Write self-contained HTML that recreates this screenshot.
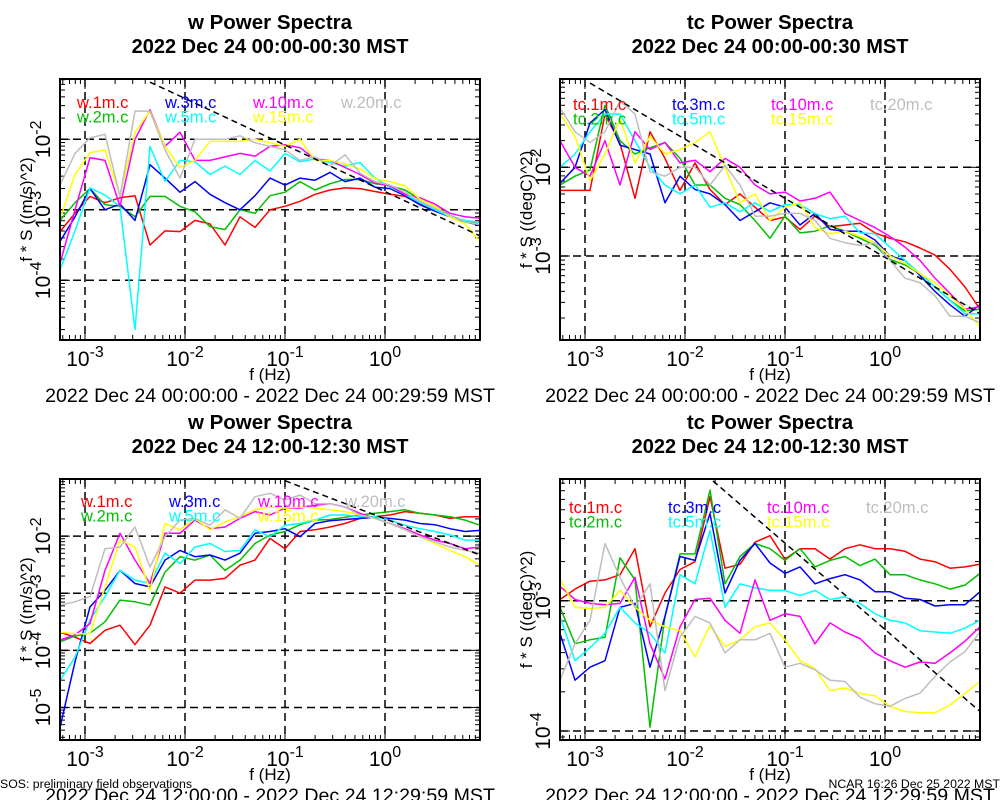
<!DOCTYPE html>
<html><head><meta charset="utf-8"><style>
body{margin:0;background:#fff;}
svg{display:block;font-family:"Liberation Sans",sans-serif;}
</style></head><body>
<svg id="chart" width="1000" height="800" viewBox="0 0 1000 800"></svg>
<script>
// frequency grid (log10 Hz)
const freqLog = [-3.25,-3.1,-2.95,-2.8,-2.65,-2.5,-2.35,-2.2,-2.05,-1.9,-1.75,-1.6,-1.45,-1.3,-1.15,-1.0,-0.85,-0.7,-0.55,-0.4,-0.25,-0.1,0.05,0.2,0.35,0.5,0.65,0.8,0.95];
const xTickExp = [-3,-2,-1,0];
const heights = ["1m","2m","3m","5m","10m","15m","20m"];
const legendW = ["w.1m.c","w.2m.c","w.3m.c","w.5m.c","w.10m.c","w.15m.c","w.20m.c"];
const legendT = ["tc.1m.c","tc.2m.c","tc.3m.c","tc.5m.c","tc.10m.c","tc.15m.c","tc.20m.c"];

// Top-left: w, 00:00 (log10 of f*S)
const w00_1m = [-3.31,-3.05,-2.81,-2.9,-2.83,-2.8,-3.5,-3.3,-3.31,-3.15,-3.2,-3.5,-3.1,-3.25,-3.0,-2.95,-2.88,-2.78,-2.72,-2.69,-2.7,-2.74,-2.78,-2.81,-2.92,-3.0,-3.1,-3.16,-3.21];
const w00_2m = [-3.15,-2.9,-2.7,-2.93,-2.95,-3.1,-2.81,-2.81,-2.95,-3.03,-3.24,-3.28,-3.0,-3.05,-2.8,-2.75,-2.6,-2.72,-2.63,-2.57,-2.57,-2.63,-2.66,-2.72,-2.85,-2.95,-3.08,-3.16,-3.21];
const w00_3m = [-3.45,-3.1,-2.7,-3.0,-2.92,-3.15,-2.36,-2.55,-2.75,-2.6,-2.78,-2.9,-3.0,-2.8,-2.55,-2.65,-2.55,-2.58,-2.47,-2.6,-2.55,-2.68,-2.7,-2.8,-2.93,-3.02,-3.1,-3.17,-3.22];
const w00_5m = [-3.85,-3.3,-2.69,-2.79,-2.95,-4.7,-2.1,-2.6,-2.3,-2.32,-2.5,-2.38,-2.5,-2.3,-2.45,-2.2,-2.32,-2.28,-2.33,-2.38,-2.33,-2.55,-2.68,-2.78,-2.9,-3.0,-3.1,-3.15,-3.18];
const w00_10m = [-3.76,-3.0,-2.26,-2.3,-2.95,-2.0,-1.58,-2.1,-1.9,-2.3,-2.3,-2.25,-2.2,-2.24,-2.1,-2.08,-2.12,-2.28,-2.3,-2.4,-2.5,-2.62,-2.66,-2.78,-2.83,-2.92,-3.05,-3.1,-3.12];
const w00_15m = [-3.13,-2.5,-2.19,-2.15,-2.8,-1.9,-1.6,-2.1,-2.4,-2.3,-2.03,-2.03,-2.03,-2.0,-2.05,-2.1,-2.0,-2.3,-2.3,-2.35,-2.42,-2.56,-2.6,-2.66,-2.85,-2.95,-3.1,-3.2,-3.45];
const w00_20m = [-2.65,-2.2,-1.98,-1.93,-2.81,-1.6,-1.6,-2.15,-2.55,-2.0,-2.0,-2.0,-1.95,-2.05,-2.1,-2.15,-2.3,-2.25,-2.38,-2.22,-2.48,-2.6,-2.65,-2.75,-2.88,-2.98,-3.08,-3.17,-3.21];

// Top-right: tc, 00:00
const t00_1m = [-2.26,-2.26,-2.26,-1.4,-1.73,-2.35,-1.6,-1.9,-2.26,-1.95,-2.25,-2.42,-2.3,-2.45,-2.6,-2.56,-2.7,-2.55,-2.67,-2.65,-2.63,-2.74,-2.8,-2.84,-2.91,-2.99,-3.15,-3.35,-3.6];
const t00_2m = [-2.2,-2.1,-2.03,-1.3,-1.7,-1.85,-1.78,-1.72,-1.9,-2.2,-2.2,-2.35,-2.42,-2.6,-2.8,-2.55,-2.74,-2.72,-2.66,-2.72,-2.8,-2.88,-3.04,-3.1,-3.2,-3.35,-3.5,-3.62,-3.6];
const t00_3m = [-2.18,-2.0,-1.5,-1.35,-1.75,-1.8,-1.85,-2.4,-2.1,-2.25,-2.3,-2.42,-2.6,-2.5,-2.4,-2.45,-2.65,-2.52,-2.7,-2.72,-2.72,-2.82,-3.0,-3.05,-3.22,-3.4,-3.55,-3.68,-3.55];
const t00_5m = [-2.0,-1.85,-1.6,-1.4,-1.4,-1.7,-2.0,-2.2,-2.3,-2.2,-2.45,-2.4,-2.5,-2.4,-2.5,-2.42,-2.42,-2.52,-2.58,-2.55,-2.74,-2.75,-2.9,-3.05,-3.2,-3.35,-3.5,-3.65,-3.65];
const t00_10m = [-1.7,-2.0,-2.1,-1.7,-2.2,-1.6,-1.8,-1.72,-1.95,-1.92,-2.05,-1.9,-2.0,-2.2,-2.3,-2.28,-2.38,-2.35,-2.28,-2.52,-2.6,-2.68,-2.78,-2.9,-3.05,-3.25,-3.42,-3.6,-3.57];
const t00_15m = [-1.4,-1.65,-2.15,-1.85,-1.45,-1.95,-1.65,-1.85,-1.8,-1.72,-1.6,-2.0,-2.4,-2.3,-2.6,-2.45,-2.4,-2.68,-2.75,-2.72,-2.78,-2.85,-3.0,-3.08,-3.2,-3.3,-3.45,-3.6,-3.8];
const t00_20m = [-1.33,-1.6,-1.72,-1.6,-1.25,-1.4,-2.05,-2.1,-2.0,-2.0,-2.2,-1.98,-2.2,-2.55,-2.55,-2.52,-2.52,-2.6,-2.8,-2.85,-2.88,-2.85,-3.05,-3.25,-3.3,-3.45,-3.68,-3.68,-3.75];

// Bottom-left: w, 12:00
const w12_1m = [-3.68,-3.77,-3.88,-3.65,-3.56,-3.9,-3.56,-2.89,-3.0,-2.77,-2.77,-2.74,-2.51,-2.42,-2.04,-2.22,-1.92,-1.89,-1.84,-1.78,-1.69,-1.66,-1.63,-1.57,-1.6,-1.63,-1.69,-1.66,-1.66];
const w12_2m = [-3.85,-3.75,-3.7,-3.5,-3.12,-3.15,-3.21,-2.63,-2.36,-2.42,-2.33,-2.6,-2.42,-2.13,-1.98,-1.92,-1.8,-1.72,-1.71,-1.67,-1.63,-1.6,-1.57,-1.54,-1.6,-1.63,-1.66,-1.72,-1.81];
const w12_3m = [-5.35,-4.2,-3.24,-2.95,-2.6,-2.83,-2.89,-2.42,-2.25,-2.36,-2.33,-2.42,-2.3,-1.95,-1.92,-1.87,-2.01,-1.78,-1.73,-1.71,-1.69,-1.67,-1.69,-1.72,-1.78,-1.8,-1.87,-1.92,-1.9];
const w12_5m = [-4.53,-4.12,-3.47,-3.06,-2.6,-2.77,-2.83,-2.3,-2.48,-2.19,-2.13,-2.27,-2.25,-1.89,-2.01,-1.81,-1.78,-1.72,-1.63,-1.63,-1.66,-1.66,-1.72,-1.81,-1.87,-1.92,-1.98,-2.07,-2.07];
const w12_10m = [-3.82,-3.73,-3.53,-2.6,-1.95,-2.42,-2.83,-1.95,-1.95,-1.72,-1.87,-1.84,-1.69,-1.57,-1.63,-1.51,-1.51,-1.46,-1.43,-1.49,-1.6,-1.69,-1.78,-1.87,-1.98,-2.07,-2.13,-2.22,-2.19];
const w12_15m = [-3.68,-3.71,-3.71,-2.89,-2.07,-2.19,-2.95,-1.78,-1.89,-1.69,-1.89,-1.75,-1.66,-1.54,-1.49,-1.51,-1.49,-1.51,-1.54,-1.57,-1.63,-1.69,-1.78,-1.89,-2.01,-2.13,-2.25,-2.36,-2.51];
const w12_20m = [-3.21,-3.15,-3.06,-2.22,-2.19,-1.84,-2.54,-2.01,-1.72,-1.69,-1.81,-1.54,-1.69,-1.31,-1.25,-1.37,-1.28,-1.43,-1.43,-1.49,-1.63,-1.69,-1.78,-1.89,-2.01,-2.1,-2.19,-2.25,-2.3];

// Bottom-right: tc, 12:00
const t12_1m = [-2.99,-2.91,-2.85,-2.84,-2.8,-2.6,-3.2,-2.94,-2.76,-2.7,-2.2,-2.75,-2.72,-2.55,-2.5,-2.68,-2.6,-2.6,-2.68,-2.6,-2.57,-2.6,-2.6,-2.62,-2.68,-2.7,-2.75,-2.74,-2.72];
const t12_2m = [-3.05,-3.33,-3.3,-3.28,-2.67,-2.84,-3.97,-3.12,-2.64,-2.64,-2.15,-2.87,-2.66,-2.56,-2.6,-2.69,-2.6,-2.74,-2.69,-2.66,-2.73,-2.68,-2.8,-2.8,-2.84,-2.87,-2.91,-2.88,-2.79];
const t12_3m = [-3.25,-3.61,-3.51,-3.46,-3.05,-3.02,-3.51,-3.12,-2.66,-2.69,-2.33,-2.94,-2.69,-2.56,-2.71,-2.79,-2.74,-2.87,-2.83,-2.8,-2.84,-2.93,-2.93,-2.98,-2.99,-3.04,-3.03,-3.03,-2.93];
const t12_5m = [-3.12,-3.46,-3.36,-3.25,-3.05,-3.17,-3.25,-3.4,-2.8,-2.87,-2.46,-3.05,-2.87,-2.9,-2.92,-2.92,-2.96,-2.92,-2.99,-2.97,-3.02,-3.1,-3.15,-3.17,-3.23,-3.24,-3.25,-3.21,-3.15];
const t12_10m = [-2.89,-2.99,-3.02,-3.03,-3.02,-2.82,-3.33,-3.6,-3.2,-2.99,-2.98,-3.15,-3.25,-2.84,-3.15,-3.1,-3.12,-3.33,-3.17,-3.24,-3.29,-3.4,-3.46,-3.51,-3.47,-3.48,-3.4,-3.31,-3.2];
const t12_15m = [-2.83,-3.05,-3.06,-3.05,-2.92,-3.05,-3.15,-3.2,-3.23,-3.43,-3.19,-3.35,-3.3,-3.2,-3.17,-3.3,-3.46,-3.52,-3.69,-3.67,-3.71,-3.73,-3.81,-3.85,-3.86,-3.86,-3.8,-3.71,-3.62];
const t12_20m = [-3.61,-3.33,-3.15,-2.56,-2.82,-3.05,-2.87,-3.69,-3.28,-3.12,-3.17,-3.4,-3.3,-3.3,-3.25,-3.51,-3.48,-3.53,-3.61,-3.62,-3.74,-3.79,-3.81,-3.75,-3.71,-3.58,-3.47,-3.39,-3.24];

// -2/3 reference lines: [logf0, logS0, logf1, logS1]
const refTL = [-2.35,-1.19,0.95,-3.37];
const refTR = [-2.95,-1.05,0.95,-3.65];
const refBL = [-1.0,-1.03,0.95,-2.33];
const refBR = [-1.72,-2.08,0.95,-3.85];

const colors = ["#ff0000","#00c000","#0000ff","#00ffff","#ff00ff","#ffff00","#bebebe"];
const NS = "http://www.w3.org/2000/svg";
const svg = document.getElementById("chart");
function mk(tag, attrs, parent){const e=document.createElementNS(NS,tag);for(const k in attrs)e.setAttribute(k,attrs[k]);(parent||svg).appendChild(e);return e;}

const panels = [
 {id:"tl",x0:60,y0:79,y1:340,top:-1.145,bot:-4.847,title1:"w Power Spectra",title2:"2022 Dec 24 00:00-00:30 MST",ytitle:"f * S ((m/s)^2)",yt:[-2,-3,-4],
  series:[w00_1m,w00_2m,w00_3m,w00_5m,w00_10m,w00_15m,w00_20m],leg:legendW,lx:[77,165,253,341],ly:108,ref:refTL,date:"2022 Dec 24 00:00:00 - 2022 Dec 24 00:29:59 MST",dy:402,fy:380},
 {id:"tr",x0:560,y0:79,y1:340,top:-1.0045,bot:-3.947,title1:"tc Power Spectra",title2:"2022 Dec 24 00:00-00:30 MST",ytitle:"f * S ((degC)^2)",yt:[-2,-3],
  series:[t00_1m,t00_2m,t00_3m,t00_5m,t00_10m,t00_15m,t00_20m],leg:legendT,lx:[573,672,771,870],ly:110,ref:refTR,date:"2022 Dec 24 00:00:00 - 2022 Dec 24 00:29:59 MST",dy:402,fy:380},
 {id:"bl",x0:60,y0:479,y1:740,top:-1.0,bot:-5.57,title1:"w Power Spectra",title2:"2022 Dec 24 12:00-12:30 MST",ytitle:"f * S ((m/s)^2)",yt:[-2,-3,-4,-5],
  series:[w12_1m,w12_2m,w12_3m,w12_5m,w12_10m,w12_15m,w12_20m],leg:legendW,lx:[81,169,258,345],ly:507,ref:refBL,date:"2022 Dec 24 12:00:00 - 2022 Dec 24 12:29:59 MST",dy:802,fy:780},
 {id:"br",x0:560,y0:479,y1:740,top:-2.065,bot:-4.069,title1:"tc Power Spectra",title2:"2022 Dec 24 12:00-12:30 MST",ytitle:"f * S ((degC)^2)",yt:[-3,-4],
  series:[t12_1m,t12_2m,t12_3m,t12_5m,t12_10m,t12_15m,t12_20m],leg:legendT,lx:[569,668,767,866],ly:513,ref:refBR,date:"2022 Dec 24 12:00:00 - 2022 Dec 24 12:29:59 MST",dy:802,fy:780}
];

panels.forEach(p=>{
  const W=420, x1=p.x0+W;
  const xs=lf=>p.x0+(lf+3.25)*100;
  const ys=v=>p.y0+(p.top-v)/(p.top-p.bot)*(p.y1-p.y0);
  const cx=p.x0+W/2;
  const g=mk("g",{});
  
  
  const clipId="clip-"+p.id;
  const cp=mk("clipPath",{id:clipId},g);
  mk("rect",{x:p.x0,y:p.y0,width:W,height:p.y1-p.y0},cp);
  // titles
  const t1=mk("text",{x:cx,y:p.y0-50,"text-anchor":"middle","font-size":"20.5","font-weight":"bold"},g);t1.textContent=p.title1;
  
  
  const t2=mk("text",{x:cx,y:p.y0-26,"text-anchor":"middle","font-size":"20","font-weight":"bold"},g);t2.textContent=p.title2;
  
  
  // grid
  const grid=mk("g",{stroke:"#000","stroke-width":"1.5","stroke-dasharray":"8,5",fill:"none"},g);
  
  
  xTickExp.forEach(e=>mk("line",{x1:xs(e),x2:xs(e),y1:p.y0,y2:p.y1},grid));
  p.yt.forEach(e=>mk("line",{x1:p.x0,x2:x1,y1:ys(e),y2:ys(e)},grid));
  // ticks
  const tk=mk("g",{stroke:"#000","stroke-width":"1"},g);
  
  
  for(let d=-4;d<=1;d++){for(let m=1;m<10;m++){const lf=d+Math.log10(m);if(lf<-3.25||lf>0.95)continue;const L=m==1?10:5;const x=xs(lf);
    mk("line",{x1:x,x2:x,y1:p.y1,y2:p.y1-L},tk);mk("line",{x1:x,x2:x,y1:p.y0,y2:p.y0+L},tk);}}
  for(let d=-6;d<=0;d++){for(let m=1;m<10;m++){const v=d+Math.log10(m);if(v>p.top||v<p.bot)continue;const L=m==1?10:5;const y=ys(v);
    mk("line",{x1:p.x0,x2:p.x0+L,y1:y,y2:y},tk);mk("line",{x1:x1,x2:x1-L,y1:y,y2:y},tk);}}
  // x tick labels
  xTickExp.forEach(e=>{const t=mk("text",{x:xs(e),y:p.y1+26,"text-anchor":"middle","font-size":"21"},g);
    
    
    const a=mk("tspan",{},t);a.textContent="10";const b=mk("tspan",{dy:"-9","font-size":"16"},t);b.textContent=String(e);});
  // y tick labels
  p.yt.forEach(e=>{const y=ys(e);const t=mk("text",{x:0,y:0,"text-anchor":"middle","font-size":"21",transform:`translate(${p.x0-10},${y}) rotate(-90)`},g);
    
    
    const a=mk("tspan",{},t);a.textContent="10";const b=mk("tspan",{dy:"-9","font-size":"16"},t);b.textContent=String(e);});
  // axis titles
  const yt=mk("text",{x:0,y:0,"text-anchor":"middle","font-size":"17",transform:`translate(${p.x0-28},${(p.y0+p.y1)/2}) rotate(-90)`},g);yt.textContent=p.ytitle;
  
  
  const xt=mk("text",{x:cx,y:p.fy,"text-anchor":"middle","font-size":"17"},g);xt.textContent="f (Hz)";
  
  
  const dt=mk("text",{x:cx,y:p.dy,"text-anchor":"middle","font-size":"19.6"},g);dt.textContent=p.date;
  
  
  // series
  const sg=mk("g",{"clip-path":`url(#${clipId})`,fill:"none","stroke-width":"1.5","stroke-linejoin":"round"},g);
  p.series.forEach((s,i)=>{
    const d=s.map((v,k)=>(k?"L":"M")+xs(freqLog[k]).toFixed(1)+","+ys(v).toFixed(1)).join(" ");
    const path=mk("path",{d:d,stroke:colors[i]},sg);
    
    
  });
  const r=p.ref;
  const rl=mk("line",{x1:xs(r[0]),y1:ys(r[1]),x2:xs(r[2]),y2:ys(r[3]),stroke:"#000","stroke-width":"1.5","stroke-dasharray":"6,4"},sg);
  
  
  // legend
  const order=[[0,1],[2,3],[4,5],[6]];
  order.forEach((col,ci)=>col.forEach((si,ri)=>{
    const t=mk("text",{x:p.lx[ci],y:p.ly+ri*14.5,"font-size":"16.5",fill:colors[si]},g);t.textContent=p.leg[si];
    
    
  }));
  // frame
  const fr=mk("rect",{x:p.x0,y:p.y0,width:W,height:p.y1-p.y0,fill:"none",stroke:"#000","stroke-width":"2"},g);
  
  
});
const f1=mk("text",{x:0,y:788,"font-size":"12.3"});f1.textContent="SOS: preliminary field observations";


const f2=mk("text",{x:1000,y:788,"font-size":"12.3","text-anchor":"end"});f2.textContent="NCAR 16:26 Dec 25 2022 MST";


</script>
</body></html>
